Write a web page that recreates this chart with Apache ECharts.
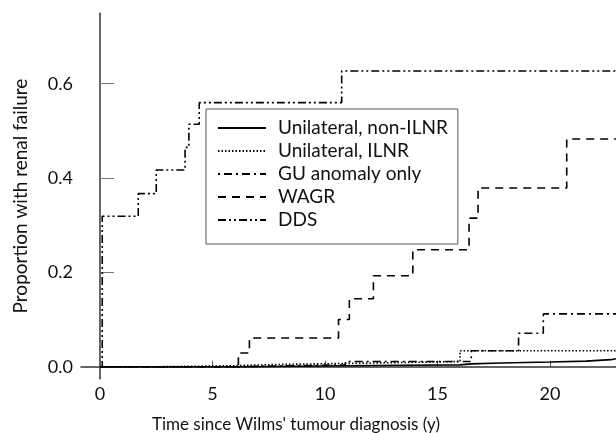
<!DOCTYPE html>
<html>
<head>
<meta charset="utf-8">
<script src="https://cdn.jsdelivr.net/npm/echarts@6/dist/echarts.min.js"></script>
<style>
  html, body { margin: 0; padding: 0; background: #fff; }
  #main { width: 616px; height: 433px; }
</style>
</head>
<body>
<div id="main"></div>
<script>
// tick labels
const xTicks = [0, 5, 10, 15, 20];
const yTicks = [0, 0.2, 0.4, 0.6];

// step curves: time (y) and cumulative proportion
const nonIlnrTime = [0, 6.2, 10.9, 13.5, 16.0, 16.5, 17.8, 20.0, 21.6, 22.7, 22.93];
const nonIlnrProp = [0, 0.002, 0.003, 0.004, 0.006, 0.008, 0.010, 0.012, 0.015, 0.017, 0.017];

const ilnrTime = [0, 2.5, 5.8, 8.1, 10.9, 16.0, 22.93];
const ilnrProp = [0, 0.002, 0.005, 0.007, 0.011, 0.034, 0.034];

const guTime = [0, 6.2, 10.9, 16.5, 18.6, 19.7, 22.93];
const guProp = [0, 0.004, 0.011, 0.034, 0.071, 0.112, 0.112];

const wagrTime = [0, 6.15, 6.64, 10.6, 11.08, 12.15, 13.9, 16.4, 16.8, 20.74, 22.93];
const wagrProp = [0, 0.029, 0.061, 0.100, 0.144, 0.193, 0.248, 0.315, 0.379, 0.483, 0.483];

const ddsTime = [0, 0.1, 1.7, 2.5, 3.78, 3.95, 4.41, 10.74, 22.93];
const ddsProp = [0, 0.319, 0.367, 0.417, 0.465, 0.514, 0.560, 0.627, 0.627];

const FONT = "Lato";

function pairs(t, p) {
  return t.map((v, i) => [v, p[i]]);
}

function stepSeries(name, t, p, dash) {
  return {
    name: name,
    type: "line",
    step: "end",
    symbol: "none",
    data: pairs(t, p),
    lineStyle: { color: "#000", width: 1.6, type: dash },
    itemStyle: { color: "#000" },
  };
}

const chart = echarts.init(document.getElementById("main"));
chart.setOption({
  animation: false,
  grid: { left: 81, right: 0, top: 13, bottom: 54 },
  xAxis: {
    type: "value",
    min: -0.844,
    max: 22.93,
    splitLine: { show: false },
    axisLine: { lineStyle: { color: "#333", width: 1.5 } },
    axisTick: { inside: true, length: 6, customValues: xTicks, lineStyle: { color: "#555" } },
    axisLabel: { customValues: xTicks, color: "#111", fontSize: 18, fontFamily: FONT, margin: 6 },
  },
  yAxis: {
    type: "value",
    min: -0.026,
    max: 0.75,
    name: "Proportion with renal failure",
    nameLocation: "middle",
    nameGap: 51,
    nameTextStyle: { color: "#111", fontSize: 19, fontFamily: FONT },
    splitLine: { show: false },
    axisLine: { show: true, lineStyle: { color: "#333", width: 1.5 } },
    axisTick: { show: true, inside: true, length: 14, customValues: yTicks, lineStyle: { color: "#777" } },
    axisLabel: {
      customValues: yTicks,
      color: "#111",
      fontSize: 18,
      fontFamily: FONT,
      margin: 8,
      formatter: (v) => v.toFixed(1),
    },
  },
  graphic: [
    {
      type: "text",
      x: 296,
      y: 425,
      style: {
        text: "Time since Wilms' tumour diagnosis (y)",
        fill: "#111",
        fontSize: 17,
        fontFamily: FONT,
        textAlign: "center",
        textVerticalAlign: "middle",
      },
    },
  ],
  legend: {
    orient: "vertical",
    left: 206,
    top: 109,
    padding: [9, 10, 14, 11],
    borderColor: "#555",
    borderWidth: 1,
    backgroundColor: "#fff",
    itemWidth: 48,
    itemHeight: 14,
    itemGap: 3,
    itemStyle: { opacity: 0 },
    textStyle: { color: "#111", fontSize: 19, fontFamily: FONT, lineHeight: 20, padding: [0, 0, 0, 7] },
  },
  series: [
    stepSeries("Unilateral, non-ILNR", nonIlnrTime, nonIlnrProp, "solid"),
    stepSeries("Unilateral, ILNR", ilnrTime, ilnrProp, [1.5, 2]),
    stepSeries("GU anomaly only", guTime, guProp, [2, 4, 8, 4]),
    stepSeries("WAGR", wagrTime, wagrProp, [8, 6]),
    stepSeries("DDS", ddsTime, ddsProp, [8, 3, 2, 3, 2, 3]),
  ],
});
window.addEventListener("resize", () => {
  chart.resize();
});
</script>
</body>
</html>
